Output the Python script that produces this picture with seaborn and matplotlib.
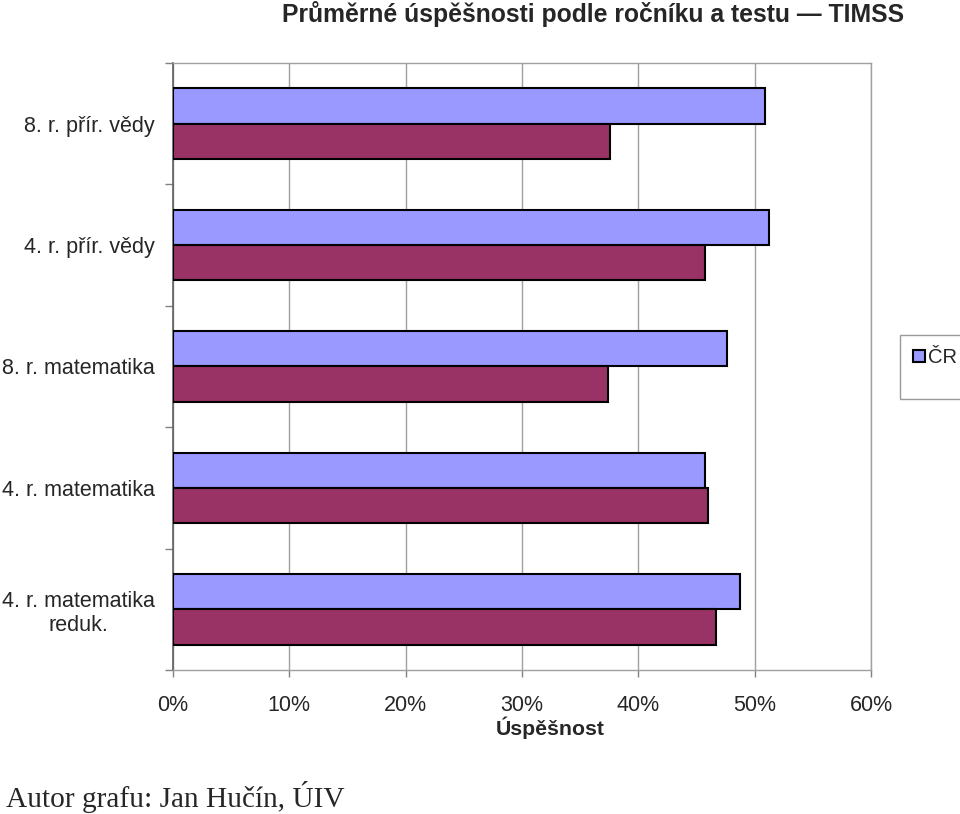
import matplotlib
matplotlib.use("Agg")
import numpy
import pandas
import seaborn as sea
from matplotlib import pyplot
from matplotlib.patches import Patch
from matplotlib.ticker import FuncFormatter

# values (fraction of correct answers, in %)
categories = [
    "8. r. přír. vědy",
    "4. r. přír. vědy",
    "8. r. matematika",
    "4. r. matematika",
    "4. r. matematika\nreduk.",
]
series_names = ["ČR", "mezinárodní"]
cr_values = [50.9, 51.2, 47.6, 45.7, 48.7]
intl_values = [37.6, 45.7, 37.4, 46.0, 46.7]
x_ticks = [0, 10, 20, 30, 40, 50, 60]

sea.set_style("white")
pyplot.rcParams["font.family"] = ["Liberation Sans", "DejaVu Sans"]

dataframe = pandas.DataFrame(
    {
        "cat": categories * 2,
        "value": cr_values + intl_values,
        "series": [series_names[0]] * 5 + [series_names[1]] * 5,
    }
)

figure = pyplot.figure(figsize=(9.6, 8.14), dpi=100)
axis = figure.add_axes([173 / 960, 1 - 670 / 814, 698 / 960, 607 / 814])

sea.barplot(
    data=dataframe,
    x="value",
    y="cat",
    hue="series",
    orient="h",
    order=categories,
    hue_order=series_names,
    palette=["#9999FF", "#993366"],
    edgecolor="black",
    linewidth=1.5,
    width=0.58,
    saturation=1,
    ax=axis,
    zorder=3,
)

axis.set_xlim(0, 60)
axis.set_ylim(len(categories) - 0.5, -0.5)
axis.set_xticks(x_ticks)
axis.xaxis.set_major_formatter(FuncFormatter(lambda v, _: f"{v:.0f}%"))
axis.grid(axis="x", color="#a0a0a0", linewidth=1, zorder=0)
axis.set_axisbelow(True)

# category boundary ticks on the y axis
axis.set_yticks(numpy.arange(-0.5, len(categories), 1.0), minor=True)
axis.tick_params(axis="y", which="minor", length=6, color="#808080", width=1, left=True)
axis.tick_params(axis="y", which="major", length=0, pad=13, labelsize=15.5)
axis.tick_params(axis="x", which="major", length=5, color="#808080", width=1,
                 bottom=True, pad=13, labelsize=15.5)
for label in axis.get_yticklabels():
    label.set_multialignment("center")

for side in ["top", "right", "bottom"]:
    axis.spines[side].set_color("#a0a0a0")
    axis.spines[side].set_linewidth(1)
axis.spines["left"].set_color("#606060")
axis.spines["left"].set_linewidth(1.2)

axis.set_ylabel("")
axis.set_xlabel("")
figure.text(550 / 960, 1 - 728 / 814, "Úspěšnost", ha="center", va="center",
            fontsize=15.3, fontweight="bold")

handles, labels = axis.get_legend_handles_labels()
axis.legend_.remove()
blank = Patch(facecolor="none", edgecolor="none")
legend = figure.legend(
    [handles[0], blank],
    [labels[0], " "],
    loc="upper left",
    bbox_to_anchor=(900 / 960, 1 - 335 / 814),
    frameon=True,
    fancybox=False,
    edgecolor="#808080",
    fontsize=14.5,
    handlelength=0.6,
    handleheight=0.6,
    handletextpad=0.15,
    borderpad=0.65,
    labelspacing=0,
    borderaxespad=0,
)
legend.get_frame().set_linewidth(1)

figure.text(593 / 960, 1 - 14 / 814, "Průměrné úspěšnosti podle ročníku a testu — TIMSS",
            ha="center", va="center", fontsize=17.8, fontweight="bold")
figure.text(6 / 960, 1 - 797 / 814, "Autor grafu: Jan Hučín, ÚIV",
            ha="left", va="center", fontsize=21.2,
            family=["Liberation Serif", "DejaVu Serif"])

figure.savefig("out.png", dpi=100)
